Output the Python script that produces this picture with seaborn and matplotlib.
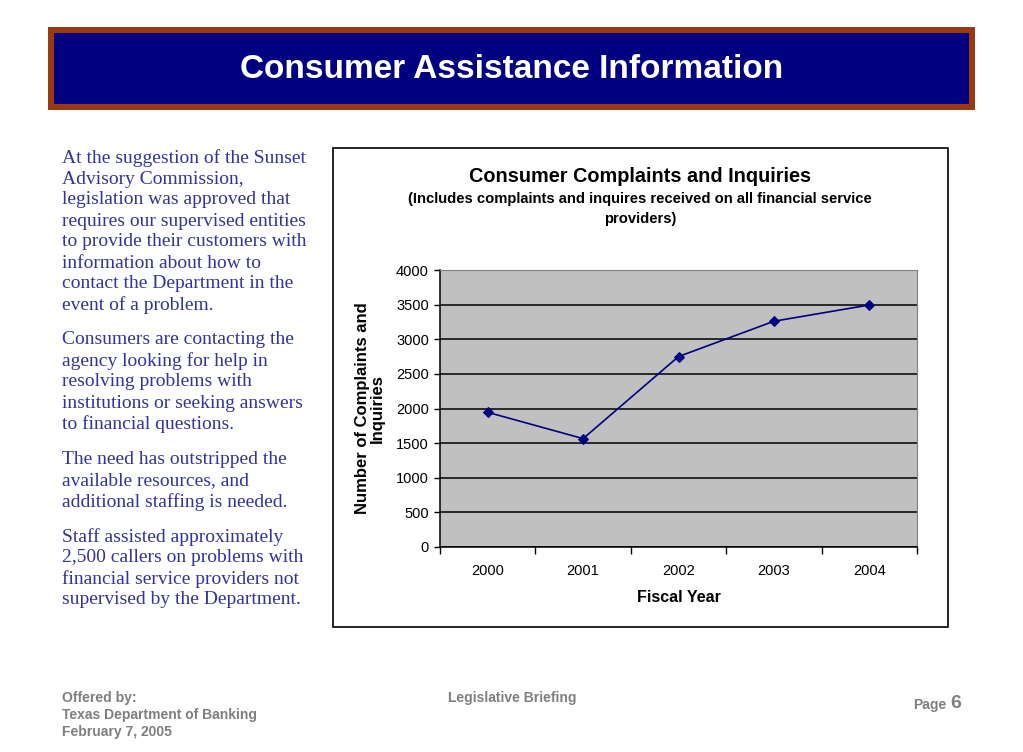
import numpy as np
import pandas as pd
import seaborn as sns
import matplotlib.pyplot as plt
from matplotlib.patches import Rectangle

# data
years = ['2000', '2001', '2002', '2003', '2004']
complaints = [1945, 1565, 2750, 3260, 3495]
y_ticks = [0, 500, 1000, 1500, 2000, 2500, 3000, 3500, 4000]

df = pd.DataFrame({'year': years, 'count': complaints})
df['pos'] = np.arange(len(years))

sns.set_style('white')
plt.rcParams['font.family'] = ['Liberation Sans', 'DejaVu Sans']
plt.rcParams['text.color'] = 'black'
plt.rcParams['axes.labelcolor'] = 'black'
plt.rcParams['xtick.color'] = 'black'
plt.rcParams['ytick.color'] = 'black'

W, H = 1023, 752
fig = plt.figure(figsize=(W / 100, H / 100), dpi=100)


def fx(px):
    return px / W


def fy(py):
    return 1 - py / H


# title banner
fig.patches.append(Rectangle((fx(48), fy(110)), fx(927), 83 / H, transform=fig.transFigure,
                             facecolor='#9a3a12', edgecolor='none', zorder=-2))
fig.patches.append(Rectangle((fx(54), fy(104)), fx(915), 71 / H, transform=fig.transFigure,
                             facecolor='#000080', edgecolor='none', zorder=-2))
fig.text(fx(512), fy(70), 'Consumer Assistance Information', color='white', fontsize=24,
         fontweight='bold', ha='center', va='center')

# left text
paras = [
    (158, ['At the suggestion of the Sunset', 'Advisory Commission,', 'legislation was approved that',
           'requires our supervised entities', 'to provide their customers with',
           'information about how to', 'contact the Department in the', 'event of a problem.']),
    (340, ['Consumers are contacting the', 'agency looking for help in', 'resolving problems with',
           'institutions or seeking answers', 'to financial questions.']),
    (460, ['The need has outstripped the', 'available resources, and', 'additional staffing is needed.']),
    (537, ['Staff assisted approximately', '2,500 callers on problems with',
           'financial service providers not', 'supervised by the Department.']),
]
for y0, lines in paras:
    for i, line in enumerate(lines):
        fig.text(fx(62), fy(y0 + 21 * i), line, color='#333399', fontsize=14, ha='left', va='center',
                 family=['Liberation Serif', 'DejaVu Serif'])

# chart box
fig.patches.append(Rectangle((fx(333), fy(627)), fx(615), 479 / H, transform=fig.transFigure,
                             facecolor='white', edgecolor='black', linewidth=1.2, zorder=-2))
fig.text(fx(640), fy(177), 'Consumer Complaints and Inquiries', fontsize=14.3, fontweight='bold',
         ha='center', va='center')
fig.text(fx(640), fy(199), '(Includes complaints and inquires received on all financial service',
         fontsize=10.6, fontweight='bold', ha='center', va='center')
fig.text(fx(640), fy(219), 'providers)', fontsize=10.6, fontweight='bold', ha='center', va='center')

ax = fig.add_axes([fx(440), fy(547), fx(477), 277 / H])
ax.set_facecolor('#c0c0c0')
ax.set_axisbelow(True)
ax.yaxis.grid(True, color='black', linewidth=1.1)
sns.lineplot(data=df, x='pos', y='count', ax=ax, color='#000080', linewidth=1.2,
             marker='D', markersize=5.5, markeredgecolor='#000080')

ax.set_xlim(-0.5, len(years) - 0.5)
ax.set_ylim(0, 4000)
ax.set_yticks(y_ticks)
ax.set_yticklabels([str(v) for v in y_ticks], fontsize=10.5)
ax.set_xticks(df['pos'])
ax.set_xticklabels(years, fontsize=10.5)
ax.set_xticks(np.arange(-0.5, len(years)), minor=True)
ax.tick_params(axis='x', which='major', length=0, pad=12)
ax.tick_params(axis='x', which='minor', length=5, width=1, color='black', direction='out', bottom=True)
ax.tick_params(axis='y', length=4, width=1, color='black', direction='out', left=True, pad=4)
for side in ['top', 'right']:
    ax.spines[side].set_color('#808080')
for side in ['left', 'bottom']:
    ax.spines[side].set_color('black')
    ax.spines[side].set_linewidth(1.1)

ax.set_xlabel('Fiscal Year', fontsize=11.5, fontweight='bold', labelpad=9)
ax.set_ylabel('Number of Complaints and\nInquiries', fontsize=12, fontweight='bold', labelpad=8,
              linespacing=1.0)

# footer
gray = '#7f7f7f'
fig.text(fx(62), fy(698), 'Offered by:', color=gray, fontsize=10, fontweight='bold', va='center')
fig.text(fx(62), fy(715), 'Texas Department of Banking', color=gray, fontsize=10, fontweight='bold',
         va='center')
fig.text(fx(62), fy(732), 'February 7, 2005', color=gray, fontsize=10, fontweight='bold', va='center')
fig.text(fx(512), fy(698), 'Legislative Briefing', color=gray, fontsize=10, fontweight='bold', ha='center',
         va='center')
fig.text(fx(946), fy(705), 'Page', color=gray, fontsize=10, fontweight='bold', ha='right', va='center')
fig.text(fx(950), fy(703), '6', color=gray, fontsize=14, fontweight='bold', ha='left', va='center')

fig.savefig('out.png', dpi=100)
